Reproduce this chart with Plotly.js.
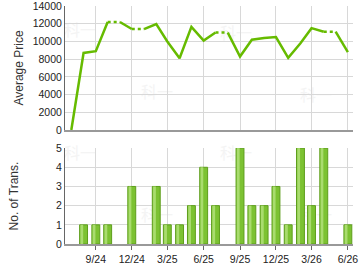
<!DOCTYPE html>
<html>
<head>
<meta charset="utf-8">
<script src="https://cdn.plot.ly/plotly-3.0.1.min.js"></script>
<style>html,body{margin:0;padding:0;background:#fff;}#chart{width:360px;height:270px;}</style>
</head>
<body>
<div id="chart"></div>
<script>
// ---- data ----
var months = ['2024-07-01','2024-08-01','2024-09-01','2024-10-01','2024-11-01','2024-12-01',
  '2025-01-01','2025-02-01','2025-03-01','2025-04-01','2025-05-01','2025-06-01',
  '2025-07-01','2025-08-01','2025-09-01','2025-10-01','2025-11-01','2025-12-01',
  '2026-01-01','2026-02-01','2026-03-01','2026-04-01','2026-05-01','2026-06-01'];
var avgPrice = [0, 8700, 8900, 12200, 12200, 11400,
  11400, 11950, 10000, 8100, 11650, 10100,
  11000, 11000, 8300, 10200, 10400, 10500,
  8150, 9800, 11500, 11100, 11100, 8800];
var transCount = [0, 1, 1, 1, 0, 3,
  0, 3, 1, 1, 2, 4,
  2, 0, 5, 2, 2, 3,
  1, 5, 2, 5, 0, 1];
var tickVals = ['2024-09-01','2024-12-01','2025-03-01','2025-06-01','2025-09-01','2025-12-01','2026-03-01','2026-06-01'];
var tickLabels = ['9/24','12/24','3/25','6/25','9/25','12/25','3/26','6/26'];
var priceTicks = [0, 2000, 4000, 6000, 8000, 10000, 12000, 14000];
var countTicks = [0, 1, 2, 3, 4, 5];
var yTitles = ['Average Price', 'No. of Trans.'];
var watermark = '科一';

// solid / dotted segments: the segment into a month with no transactions is dotted
var solidX = [], solidY = [], dotX = [], dotY = [];
for (var i = 0; i < months.length; i++) {
  if (i === 0) { solidX.push(months[0]); solidY.push(avgPrice[0]); continue; }
  if (transCount[i] === 0) {
    dotX.push(months[i-1], months[i], null); dotY.push(avgPrice[i-1], avgPrice[i], null);
    solidX.push(null); solidY.push(null);
  } else {
    if (solidY.length && solidY[solidY.length-1] === null) { solidX.push(months[i-1]); solidY.push(avgPrice[i-1]); }
    solidX.push(months[i]); solidY.push(avgPrice[i]);
  }
}
var barY = transCount.map(function(v){ return v > 0 ? v : null; });

var DAY = 86400000;
var green = '#66bb00';
var traces = [
  {x: dotX, y: dotY, type: 'scatter', mode: 'lines', line: {color: green, width: 2.5, dash: 'dot'}, xaxis: 'x', yaxis: 'y', connectgaps: false},
  {x: solidX, y: solidY, type: 'scatter', mode: 'lines', line: {color: green, width: 2.5}, xaxis: 'x', yaxis: 'y', connectgaps: false},
  {x: months, y: barY, type: 'bar', width: 20*DAY, offset: -10*DAY,
   marker: {color: '#7cc232', line: {color: '#5e9e1c', width: 1}}, xaxis: 'x2', yaxis: 'y2'},
  {x: months, y: barY, type: 'bar', width: 7*DAY, offset: -8*DAY,
   marker: {color: '#a9dc6e', line: {width: 0}}, xaxis: 'x2', yaxis: 'y2'}
];

var xRange = ['2024-06-15', '2026-06-14'];
var gridc = '#d8d8d8';
var tickFont = {family: 'Liberation Sans, Arial, sans-serif', size: 10.5, color: '#222'};
var titleFont = {family: 'Liberation Sans, Arial, sans-serif', size: 12, color: '#333'};

var shapes = [];
var wmPos = [[80,32],[157,94],[236,35],[316,97],[80,155],[157,217],[236,155],[316,217]];
wmPos.forEach(function(p){
  var cx = (p[0]-65)/288, cy = 1-(p[1]-6)/238;
  shapes.push({type: 'rect', xref: 'paper', yref: 'paper', x0: cx-0.1, x1: cx+0.1, y0: cy-0.05, y1: cy+0.05,
    line: {width: 0}, fillcolor: 'rgba(0,0,0,0)', layer: 'below',
    label: {text: watermark, textposition: 'middle center', textangle: 0,
      font: {family: 'Noto Sans CJK SC', size: 16, color: '#f4f4f4'}}});
});

var layout = {
  width: 360, height: 270,
  margin: {l: 65, r: 7, t: 6, b: 26},
  paper_bgcolor: '#fff', plot_bgcolor: 'rgba(0,0,0,0)',
  showlegend: false, barmode: 'overlay',
  shapes: shapes,
  xaxis: {domain: [0,1], type: 'date', range: xRange, anchor: 'y', tickvals: tickVals, ticktext: tickLabels,
    showticklabels: false, ticks: '', showgrid: true, gridcolor: gridc, zeroline: false,
    showline: true, linecolor: '#999', linewidth: 2},
  yaxis: {domain: [0.479, 1], range: [0, 14001], tickmode: 'array', tickvals: priceTicks, ticktext: priceTicks.map(String),
    anchor: 'x', showgrid: true, gridcolor: gridc, ticklabeloverflow: 'allow',
    zeroline: false, showline: true, linecolor: '#666', linewidth: 1, ticks: '', tickfont: tickFont,
    title: {text: yTitles[0], font: titleFont, standoff: 6}},
  xaxis2: {domain: [0,1], type: 'date', range: xRange, anchor: 'y2', tickvals: tickVals, ticktext: tickLabels,
    showgrid: true, gridcolor: gridc, zeroline: false, showline: true, linecolor: '#999', linewidth: 2,
    ticks: 'outside', ticklen: 4, tickcolor: '#666', tickfont: tickFont},
  yaxis2: {domain: [0, 0.403], range: [0, 5], tickmode: 'array', tickvals: countTicks, ticktext: countTicks.map(String),
    anchor: 'x2', showgrid: true, gridcolor: gridc,
    zeroline: false, showline: true, linecolor: '#666', linewidth: 1, ticks: '', tickfont: tickFont,
    title: {text: yTitles[1], font: titleFont, standoff: 34}}
};

Plotly.newPlot('chart', traces, layout, {displayModeBar: false, staticPlot: true});
</script>
</body>
</html>
